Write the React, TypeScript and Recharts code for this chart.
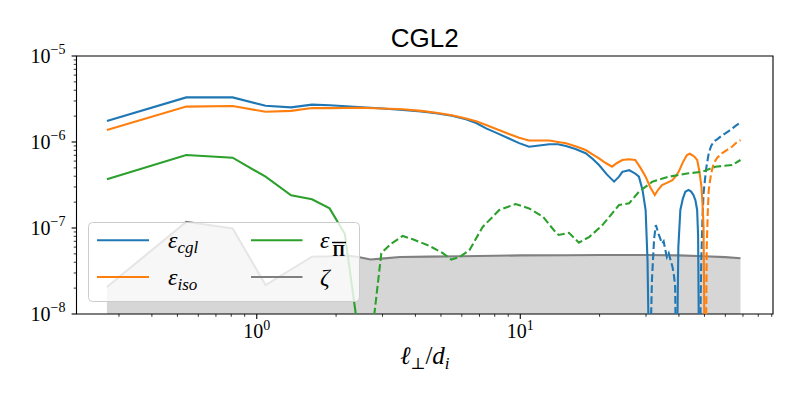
import React from "react";
import { ComposedChart, Line, Area, XAxis, YAxis, Legend, Label, ReferenceArea } from "recharts";

// eps_cgl, positive part (solid)
const cglPosAX = [0.27, 0.54, 0.81, 1.08, 1.35, 1.62, 1.89, 2.43, 3.0, 3.58, 4.2, 4.79, 5.5, 6.22, 6.8, 7.42, 8.2, 9.06, 9.9, 10.8, 11.8, 12.9, 13.9, 14.9, 16.2, 17.7, 18.8, 19.9, 21.3, 22.7, 23.7, 24.4, 25.9, 26.6, 27.3, 28.2, 29.1, 29.9, 30.4, 30.8];
const cglPosAY = [1.75e-6, 3.3e-6, 3.3e-6, 2.64e-6, 2.53e-6, 2.72e-6, 2.68e-6, 2.55e-6, 2.45e-6, 2.36e-6, 2.27e-6, 2.16e-6, 2.02e-6, 1.84e-6, 1.66e-6, 1.44e-6, 1.26e-6, 1.1e-6, 9.7e-7, 8.8e-7, 9.1e-7, 9.4e-7, 9.4e-7, 9.0e-7, 8.3e-7, 7.4e-7, 6.4e-7, 5.4e-7, 4.2e-7, 3.46e-7, 3.95e-7, 4.5e-7, 4.7e-7, 4.5e-7, 4.3e-7, 3.95e-7, 2.77e-7, 1.62e-7, 4.2e-8, 3e-9];
const cglPosBX = [39.3, 39.8, 40.5, 41.4, 42.3, 43.5, 44.5, 45.4, 46.2, 46.9, 47.3, 47.7];
const cglPosBY = [3e-9, 6e-8, 1.62e-7, 2.2e-7, 2.64e-7, 2.77e-7, 2.65e-7, 2.42e-7, 2.1e-7, 1.62e-7, 8e-8, 3e-9];
// eps_cgl, negative part (dashed, |value|)
const cglNegAX = [31.1, 31.6, 32.2, 32.7, 33.5, 34.5, 35.0, 35.5, 36.0, 36.6, 37.2, 37.8, 38.3, 38.7, 39.0];
const cglNegAY = [3e-9, 2.5e-8, 7.5e-8, 1.08e-7, 8.5e-8, 6.6e-8, 7.0e-8, 5.6e-8, 4.6e-8, 5.1e-8, 4.2e-8, 3.55e-8, 2.8e-8, 2.1e-8, 3e-9];
const cglNegBX = [48.0, 48.6, 49.1, 49.6, 50.7, 51.9, 53.0, 54.2, 56.0, 58.0, 60.0, 62.0, 64.0, 66.0, 68.5];
const cglNegBY = [3e-9, 4e-8, 1.2e-7, 2.53e-7, 4.8e-7, 7.4e-7, 9.0e-7, 1.01e-6, 1.08e-6, 1.18e-6, 1.26e-6, 1.35e-6, 1.45e-6, 1.56e-6, 1.68e-6];

// eps_iso
const isoPosX = [0.27, 0.54, 0.81, 1.08, 1.35, 1.62, 1.89, 2.43, 3.0, 3.58, 4.2, 4.79, 5.5, 6.22, 6.8, 7.42, 8.2, 9.06, 9.9, 10.8, 11.8, 12.9, 13.9, 14.9, 16.2, 17.7, 18.8, 19.9, 21.1, 22.3, 23.3, 24.4, 25.8, 27.3, 28.6, 29.9, 31.1, 32.4, 33.4, 34.5, 36.0, 37.8, 38.9, 39.9, 41.4, 42.9, 44.0, 44.8, 45.9, 46.9, 47.8, 48.7, 49.2, 49.6, 50.1];
const isoPosY = [1.38e-6, 2.58e-6, 2.62e-6, 2.25e-6, 2.3e-6, 2.48e-6, 2.48e-6, 2.5e-6, 2.45e-6, 2.4e-6, 2.3e-6, 2.19e-6, 2.05e-6, 1.88e-6, 1.74e-6, 1.58e-6, 1.4e-6, 1.24e-6, 1.12e-6, 1.04e-6, 1.04e-6, 1.04e-6, 1.0e-6, 9.65e-7, 8.9e-7, 8.07e-7, 7.2e-7, 6.45e-7, 5.7e-7, 5.16e-7, 5.7e-7, 6.18e-7, 6.3e-7, 6.18e-7, 5.0e-7, 3.95e-7, 3.0e-7, 2.42e-7, 2.8e-7, 3.16e-7, 3.35e-7, 3.6e-7, 4.0e-7, 4.5e-7, 5.8e-7, 7.06e-7, 7.3e-7, 7.06e-7, 6.7e-7, 6.2e-7, 4.6e-7, 3.02e-7, 1.8e-7, 1.03e-7, 3e-9];
const isoNegX = [50.6, 51.0, 51.5, 51.9, 53.0, 54.2, 56.0, 58.2, 61.0, 63.6, 66.0, 68.5];
const isoNegY = [3e-9, 6e-8, 1.6e-7, 2.77e-7, 4.3e-7, 5.65e-7, 6.6e-7, 7.4e-7, 8.1e-7, 8.8e-7, 9.8e-7, 1.05e-6];

// eps_Pi
const piPosX = [0.27, 0.54, 0.81, 1.08, 1.35, 1.62, 1.89, 2.16, 2.43];
const piPosY = [3.7e-7, 7.06e-7, 6.57e-7, 3.95e-7, 2.4e-7, 2.16e-7, 1.69e-7, 8.5e-8, 6e-9];
const piNegX = [2.7, 2.97, 3.24, 3.58, 3.91, 4.52, 5.08, 5.47, 5.88, 6.41, 7.2, 8.33, 9.6, 10.8, 12.2, 13.7, 14.0, 15.3, 16.7, 18.3, 20.5, 23.7, 25.9, 28.2, 31.7, 36.6, 43.5, 49.0, 55.0, 63.6, 68.5];
const piNegY = [4e-9, 5.1e-8, 6.6e-8, 8.07e-8, 7.4e-8, 6.2e-8, 5.1e-8, 4.3e-8, 4.6e-8, 5.5e-8, 1.03e-7, 1.62e-7, 1.9e-7, 1.69e-7, 1.35e-7, 8.7e-8, 8.3e-8, 8.8e-8, 6.76e-8, 7.9e-8, 1.08e-7, 1.85e-7, 1.94e-7, 2.64e-7, 3.46e-7, 3.95e-7, 4.33e-7, 4.5e-7, 5.16e-7, 5.4e-7, 6.18e-7];

// zeta
const zetaX = [0.27, 0.54, 0.81, 1.08, 1.62, 1.89, 2.16, 2.43, 2.7, 2.97, 3.5, 4.5, 6, 8, 10, 15, 20, 30, 40, 50, 60, 68.5];
const zetaY = [2.06e-8, 1.18e-7, 9.9e-8, 2.17e-8, 4.64e-8, 4.7e-8, 4.8e-8, 4.6e-8, 4.3e-8, 4.4e-8, 4.6e-8, 4.65e-8, 4.7e-8, 4.75e-8, 4.8e-8, 4.82e-8, 4.85e-8, 4.85e-8, 4.8e-8, 4.7e-8, 4.58e-8, 4.45e-8];

const xTicks = [0.3, 0.4, 0.5, 0.6, 0.7, 0.8, 0.9, 1, 2, 3, 4, 5, 6, 7, 8, 9, 10, 20, 30, 40, 50, 60, 70, 80, 90];
const yTicks = [
  1e-8, 2e-8, 3e-8, 4e-8, 5e-8, 6e-8, 7e-8, 8e-8, 9e-8,
  1e-7, 2e-7, 3e-7, 4e-7, 5e-7, 6e-7, 7e-7, 8e-7, 9e-7,
  1e-6, 2e-6, 3e-6, 4e-6, 5e-6, 6e-6, 7e-6, 8e-6, 9e-6, 1e-5,
];
const X_DOMAIN = [0.207, 91];
const Y_DOMAIN = [1e-8, 1e-5];

const pairs = (xs: number[], ys: number[]) => xs.map((x, i) => ({ x, y: ys[i] }));
const zetaData = zetaX.map((x, i) => ({ x, z: zetaY[i] }));

const SERIF = "'Liberation Serif', 'DejaVu Serif', serif";
const BLUE = "#1f77b4";
const ORANGE = "#ff7f0e";
const GREEN = "#2ca02c";
const GRAY = "#808080";
const DASH = "7.7 3.3";

const isMajor = (v: number) => {
  const lg = Math.log10(v);
  return Math.abs(lg - Math.round(lg)) < 1e-9;
};
const expText = (v: number) => {
  const e = Math.round(Math.log10(v));
  return (e < 0 ? "\u2212" : "") + Math.abs(e);
};

const XTick = (props: any) => {
  const { x, y, payload } = props;
  const major = isMajor(payload.value);
  return (
    <g>
      <line x1={x} x2={x} y1={y} y2={y + (major ? 4.9 : 2.8)} stroke="#000" strokeWidth={major ? 1.1 : 0.8} />
      {major && (
        <text x={x} y={y + 24} textAnchor="middle" fontFamily={SERIF} fontSize={20} fill="#000">
          10<tspan dy={-8} fontSize={14}>{expText(payload.value)}</tspan>
        </text>
      )}
    </g>
  );
};

const YTick = (props: any) => {
  const { x, y, payload } = props;
  const major = isMajor(payload.value);
  return (
    <g>
      <line x1={x} x2={x - (major ? 4.9 : 2.8)} y1={y} y2={y} stroke="#000" strokeWidth={major ? 1.1 : 0.8} />
      {major && (
        <text x={x - 11} y={y + 7} textAnchor="end" fontFamily={SERIF} fontSize={20} fill="#000">
          10<tspan dy={-9} fontSize={14}>{expText(payload.value)}</tspan>
        </text>
      )}
    </g>
  );
};

const TitleLabel = (props: any) => {
  const vb = props.viewBox;
  return (
    <text x={vb.x + vb.width / 2} y={vb.y - 9} textAnchor="middle" fontFamily="'Liberation Sans', sans-serif" fontSize={26} fill="#000">
      CGL2
    </text>
  );
};

const XLabel = (props: any) => {
  const vb = props.viewBox;
  return (
    <text x={vb.x + vb.width / 2} y={vb.y + 50} textAnchor="middle" fontFamily={SERIF} fontSize={25} fill="#000">
      <tspan fontStyle="italic">ℓ</tspan>
      <tspan fontSize={16} dy={5}>⊥</tspan>
      <tspan dy={-5}>/</tspan>
      <tspan fontStyle="italic">d</tspan>
      <tspan fontSize={17} fontStyle="italic" dy={5}>i</tspan>
    </text>
  );
};

const LegendBox = () => (
  <svg width={272} height={80} style={{ display: "block" }}>
    <rect x={0.5} y={0.5} width={271} height={79} rx={4} fill="#fff" fillOpacity={0.8} stroke="#cccccc" />
    <line x1={9} x2={61} y1={18.3} y2={18.3} stroke={BLUE} strokeWidth={2.1} />
    <line x1={9} x2={61} y1={55} y2={55} stroke={ORANGE} strokeWidth={2.1} />
    <line x1={163} x2={214.5} y1={18.3} y2={18.3} stroke={GREEN} strokeWidth={2.1} />
    <line x1={163} x2={214.5} y1={55} y2={55} stroke={GRAY} strokeWidth={2.1} />
    <text x={80} y={26} fontFamily={SERIF} fontSize={24} fontStyle="italic" fill="#000">
      ε<tspan fontSize={17} dy={5}>cgl</tspan>
    </text>
    <text x={80} y={63} fontFamily={SERIF} fontSize={24} fontStyle="italic" fill="#000">
      ε<tspan fontSize={17} dy={5}>iso</tspan>
    </text>
    <text x={232} y={26} fontFamily={SERIF} fontSize={24} fontStyle="italic" fill="#000">
      ε
    </text>
    <line x1={244} x2={258} y1={20.5} y2={20.5} stroke="#000" strokeWidth={1.4} />
    <text x={244.5} y={34} fontFamily={SERIF} fontSize={16} fontWeight="bold" fill="#000">
      Π
    </text>
    <text x={232} y={63} fontFamily={SERIF} fontSize={24} fontStyle="italic" fill="#000">
      ζ
    </text>
  </svg>
);

export default function App() {
  return (
    <div style={{ position: "absolute", left: 0, top: 0, width: 800, height: 400, background: "#fff" }}>
      <ComposedChart width={800} height={400} data={zetaData} margin={{ top: 56, right: 27, left: 6.5, bottom: 46 }}>
        <XAxis
          dataKey="x"
          type="number"
          scale="log"
          domain={X_DOMAIN}
          allowDataOverflow
          ticks={xTicks}
          interval={0}
          tick={<XTick />}
          tickLine={false}
          tickSize={0}
          tickMargin={0}
          height={40}
          axisLine={false}
        >
          <Label content={<XLabel />} />
        </XAxis>
        <YAxis
          type="number"
          scale="log"
          domain={Y_DOMAIN}
          allowDataOverflow
          ticks={yTicks}
          interval={0}
          tick={<YTick />}
          tickLine={false}
          tickSize={0}
          tickMargin={0}
          width={70}
          axisLine={false}
        />
        <Area
          dataKey="z"
          type="linear"
          baseValue={1e-8}
          stroke={GRAY}
          strokeWidth={2.1}
          fill={GRAY}
          fillOpacity={0.32}
          isAnimationActive={false}
          dot={false}
          activeDot={false}
        />
        <Line data={pairs(cglPosAX, cglPosAY)} dataKey="y" type="linear" stroke={BLUE} strokeWidth={2.1} dot={false} activeDot={false} isAnimationActive={false} />
        <Line data={pairs(cglNegAX, cglNegAY)} dataKey="y" type="linear" stroke={BLUE} strokeWidth={2.1} strokeDasharray={DASH} dot={false} activeDot={false} isAnimationActive={false} />
        <Line data={pairs(cglPosBX, cglPosBY)} dataKey="y" type="linear" stroke={BLUE} strokeWidth={2.1} dot={false} activeDot={false} isAnimationActive={false} />
        <Line data={pairs(cglNegBX, cglNegBY)} dataKey="y" type="linear" stroke={BLUE} strokeWidth={2.1} strokeDasharray={DASH} dot={false} activeDot={false} isAnimationActive={false} />
        <Line data={pairs(isoPosX, isoPosY)} dataKey="y" type="linear" stroke={ORANGE} strokeWidth={2.1} dot={false} activeDot={false} isAnimationActive={false} />
        <Line data={pairs(isoNegX, isoNegY)} dataKey="y" type="linear" stroke={ORANGE} strokeWidth={2.1} strokeDasharray={DASH} dot={false} activeDot={false} isAnimationActive={false} />
        <Line data={pairs(piPosX, piPosY)} dataKey="y" type="linear" stroke={GREEN} strokeWidth={2.1} dot={false} activeDot={false} isAnimationActive={false} />
        <Line data={pairs(piNegX, piNegY)} dataKey="y" type="linear" stroke={GREEN} strokeWidth={2.1} strokeDasharray={DASH} dot={false} activeDot={false} isAnimationActive={false} />
        {/* plot frame + title */}
        <ReferenceArea
          x1={X_DOMAIN[0]}
          x2={X_DOMAIN[1]}
          y1={Y_DOMAIN[0]}
          y2={Y_DOMAIN[1]}
          ifOverflow="visible"
          fill="none"
          fillOpacity={0}
          stroke="#000"
          strokeWidth={1.1}
          label={<TitleLabel />}
        />
        <Legend
          layout="vertical"
          align="center"
          verticalAlign="middle"
          content={<LegendBox />}
          wrapperStyle={{ left: 88, top: 222, width: 272, height: 80 }}
        />
      </ComposedChart>
    </div>
  );
}
